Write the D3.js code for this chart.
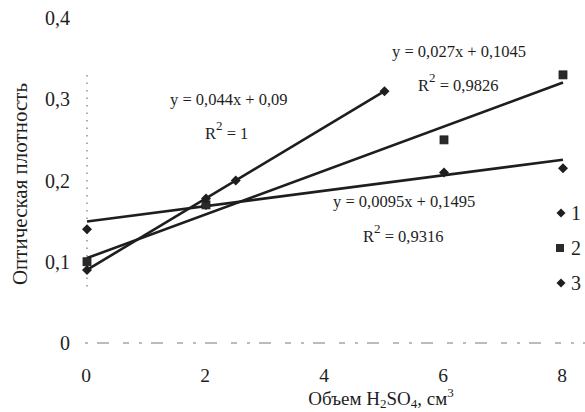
<!DOCTYPE html>
<html><head><meta charset="utf-8">
<script src="https://cdn.jsdelivr.net/npm/d3@7"></script>
<style>
html,body{margin:0;padding:0;background:#fff;}
svg{display:block;font-family:"Liberation Serif","DejaVu Serif",serif;}
</style></head>
<body>
<svg id="chart" width="585" height="412"></svg>
<script>
// ---- data ----
const xTicks = [0, 2, 4, 6, 8];
const yTicks = [0, 0.1, 0.2, 0.3, 0.4];
const yTickLabels = ["0", "0,1", "0,2", "0,3", "0,4"];
const seriesNames = ["1", "2", "3"];
const series1X = [0, 2, 6, 8];
const series1Y = [0.14, 0.17, 0.21, 0.215];
const series2X = [0, 2, 6, 8];
const series2Y = [0.10, 0.17, 0.25, 0.33];
const series3X = [0, 2, 2.5, 5];
const series3Y = [0.09, 0.178, 0.20, 0.31];
const trendSlope = [0.0095, 0.027, 0.044];
const trendIntercept = [0.1495, 0.1045, 0.09];
const trendXMax = [8, 8, 5];
const eqText = ["0,0095x + 0,1495", "0,027x + 0,1045", "0,044x + 0,09"];
const r2Text = ["0,9316", "0,9826", "1"];

// ---- layout ----
const svg = d3.select("#chart");
const ink = "#1e1e1e";
const x = d3.scaleLinear().domain([0, 8]).range([87, 563]);
const y = d3.scaleLinear().domain([0, 0.4]).range([343, 18]);

// baseline (faded dashed)
svg.append("line")
  .attr("x1", x(0) - 2).attr("x2", 585)
  .attr("y1", y(0)).attr("y2", y(0))
  .attr("stroke", "#7a7a7a").attr("stroke-width", 1.2)
  .attr("stroke-dasharray", "3,9,12,14,6,10");
// y axis (faded dotted)
svg.append("line")
  .attr("x1", x(0)).attr("x2", x(0))
  .attr("y1", y(0.33)).attr("y2", y(0.065))
  .attr("stroke", "#777").attr("stroke-width", 1.2)
  .attr("stroke-dasharray", "1.5,6");

// y tick labels
svg.append("g").selectAll("text").data(yTicks).join("text")
  .attr("x", 70).attr("y", d => y(d) + 7)
  .attr("text-anchor", "end")
  .attr("font-size", 20).attr("fill", ink)
  .text((d, i) => yTickLabels[i]);

// x tick labels
svg.append("g").selectAll("text").data(xTicks).join("text")
  .attr("x", d => x(d) - 1).attr("y", 382)
  .attr("text-anchor", "middle")
  .attr("font-size", 19.5).attr("fill", ink)
  .text(d => d);

// x title
const xt = svg.append("text").attr("x", 381).attr("y", 405)
  .attr("text-anchor", "middle").attr("font-size", 19).attr("fill", ink);
xt.append("tspan").text("Объем H");
xt.append("tspan").attr("font-size", 13).attr("dy", 3).text("2");
xt.append("tspan").attr("dy", -3).text("SO");
xt.append("tspan").attr("font-size", 13).attr("dy", 3).text("4");
xt.append("tspan").attr("dy", -3).text(", см");
xt.append("tspan").attr("font-size", 13).attr("dy", -8).text("3");

// y title
svg.append("text")
  .attr("transform", "translate(27,184) rotate(-90)")
  .attr("text-anchor", "middle").attr("font-size", 21).attr("fill", ink)
  .text("Оптическая плотность");

// trend lines
const trends = trendSlope.map((s, i) => ({ s, b: trendIntercept[i], xm: trendXMax[i] }));
svg.append("g").selectAll("line").data(trends).join("line")
  .attr("x1", x(0)).attr("y1", d => y(d.b))
  .attr("x2", d => x(d.xm)).attr("y2", d => y(d.b + d.s * d.xm))
  .attr("stroke", ink).attr("stroke-width", 2.6);

// markers
function diamondPath(sz) {
  return `M0,${-sz}L${sz},0L0,${sz}L${-sz},0Z`;
}
function drawDiamonds(xs, ys) {
  svg.append("g").selectAll("path").data(xs).join("path")
    .attr("transform", (d, i) => `translate(${x(d)},${y(ys[i])})`)
    .attr("d", diamondPath(5)).attr("fill", ink);
}
function drawSquares(xs, ys) {
  svg.append("g").selectAll("rect").data(xs).join("rect")
    .attr("x", d => x(d) - 4).attr("y", (d, i) => y(ys[i]) - 4)
    .attr("width", 8).attr("height", 8)
    .attr("fill", "#2a2a2a").attr("stroke", ink).attr("stroke-width", 0.8);
}
drawDiamonds(series1X, series1Y);
drawSquares(series2X, series2Y);
drawDiamonds(series3X, series3Y);

// equation labels
const eqPos = [
  { ex: 333, ey: 207, rx: 363, ry: 242 },
  { ex: 392, ey: 57, rx: 418, ry: 91 },
  { ex: 170, ey: 105, rx: 205, ry: 139 }
];
eqPos.forEach((p, i) => {
  svg.append("text").attr("x", p.ex).attr("y", p.ey)
    .attr("font-size", 16.5).attr("fill", ink)
    .text("y = " + eqText[i]);
  const r = svg.append("text").attr("x", p.rx).attr("y", p.ry)
    .attr("font-size", 16.5).attr("fill", ink);
  r.append("tspan").text("R");
  r.append("tspan").attr("font-size", 13).attr("dy", -9).text("2");
  r.append("tspan").attr("dy", 9).text(" = " + r2Text[i]);
});

// legend
const legY = [213, 248, 283];
const leg = svg.append("g");
seriesNames.forEach((n, i) => {
  if (i === 1) {
    leg.append("rect").attr("x", 556).attr("y", legY[i] - 4)
      .attr("width", 8).attr("height", 8).attr("fill", "#2a2a2a");
  } else {
    leg.append("path").attr("transform", `translate(561,${legY[i]})`)
      .attr("d", diamondPath(4.5)).attr("fill", ink);
  }
  leg.append("text").attr("x", 571).attr("y", legY[i] + 7)
    .attr("font-size", 20).attr("fill", ink).text(n);
});
</script>
</body></html>
